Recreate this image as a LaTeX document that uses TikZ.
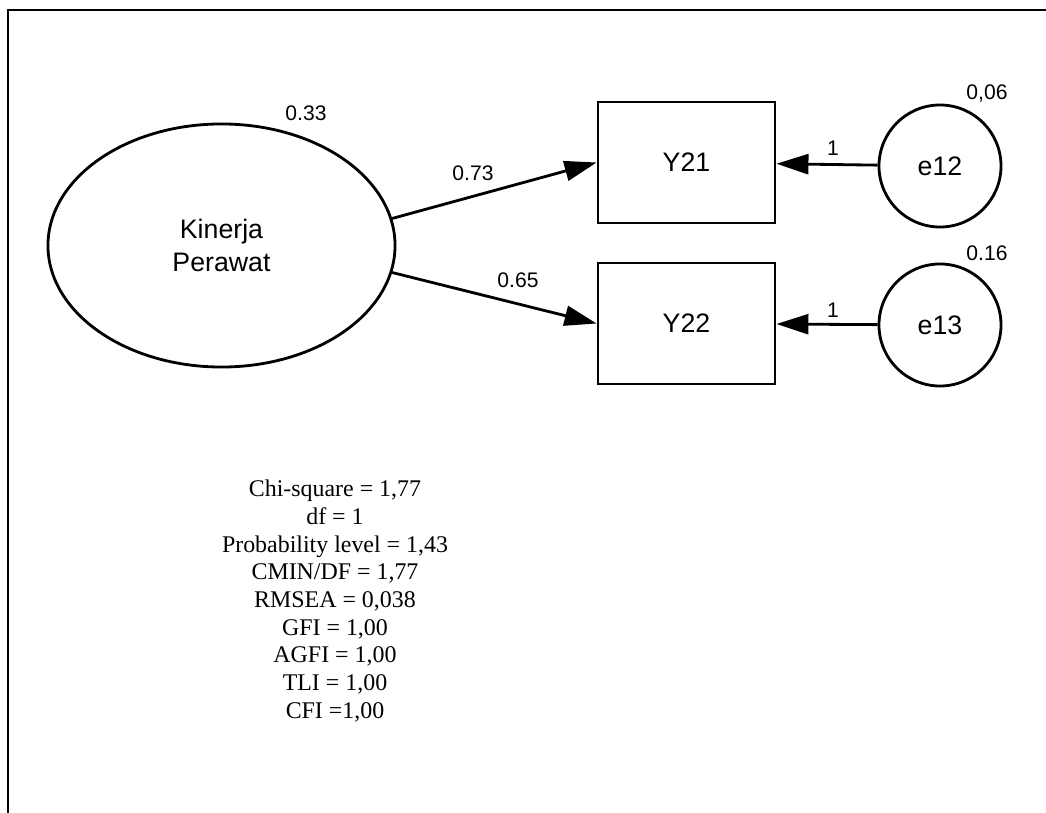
\documentclass[tikz,border=0pt]{standalone}
\usepackage{fontspec}
\setmainfont{Liberation Serif}
\setsansfont{Liberation Sans}
\usetikzlibrary{arrows.meta,shapes.geometric}

\begin{document}
\begin{tikzpicture}[x=0.025cm, y=-0.025cm,
    latent/.style={draw, line width=2pt, ellipse, minimum width=8.675cm, minimum height=6.075cm,
        inner sep=0pt, align=center, font=\sffamily\fontsize{19}{24}\selectfont},
    observed/.style={draw, line width=2pt, rectangle, minimum width=4.425cm, minimum height=3.025cm,
        font=\sffamily\fontsize{19}{23}\selectfont},
    errvar/.style={draw, line width=2pt, circle, minimum size=3.05cm, inner sep=0pt,
        font=\sffamily\fontsize{19}{23}\selectfont},
    est/.style={inner sep=0pt, font=\sffamily\fontsize{15}{18}\selectfont},
    reg/.style={line width=2pt, -{Triangle[length=0.8cm, width=0.5cm]}}]

    \useasboundingbox (0,0) rectangle (1046,813);

    % Frame
    \draw[line width=1.2pt] (8,813) -- (8,10) -- (1046,10);

    % Latent variable
    \node[latent] (kp) at (221.5,245.5) {Kinerja\\Perawat};

    % Indicators
    \node[observed] (y21) at (686.5,162.5) {Y21};
    \node[observed] (y22) at (686.5,323.5) {Y22};

    % Error terms
    \node[errvar] (e12) at (940,166) {e12};
    \node[errvar] (e13) at (940,325) {e13};

    % Paths
    \draw[reg] (kp.9) -- (y21.west);
    \draw[reg] (kp.-9) -- (y22.west);
    \draw[reg] (e12) -- (y21);
    \draw[reg] (e13) -- (y22);

    % Estimates
    \node[est] (v-kp) at (306,113) {0.33};
    \node[est] (w-y21) at (473,173) {0.73};
    \node[est] (w-y22) at (518,280) {0.65};
    \node[est] (w-e12) at (833,148) {1};
    \node[est] (w-e13) at (833,310) {1};
    \node[est] (v-e12) at (987,93) {0,06};
    \node[est] (v-e13) at (987,253) {0.16};

    % Fit indices
    \node[align=center, font=\fontsize{17}{19.7}\selectfont] (fit) at (335,601)
        {Chi-square = 1,77\\ df = 1\\ Probability level = 1,43\\ CMIN/DF = 1,77\\
         RMSEA = 0,038\\ GFI = 1,00\\ AGFI = 1,00\\ TLI = 1,00\\ CFI =1,00};
\end{tikzpicture}
\end{document}
